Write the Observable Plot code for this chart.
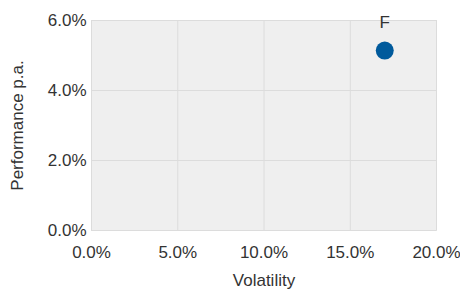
<!DOCTYPE html>
<html><head><meta charset="utf-8">
<script src="https://cdn.jsdelivr.net/npm/d3@7"></script>
<script src="https://cdn.jsdelivr.net/npm/@observablehq/plot@0.6"></script>
<style>body{margin:0;background:#fff;} svg{display:block;}</style>
</head><body><div id="chart"></div>
<script>
const names = ["F"];
const volatility = [0.170];
const performance = [0.0514];
const xTicks = [0, 0.05, 0.10, 0.15, 0.20];
const yTicks = [0, 0.02, 0.04, 0.06];
const xLabel = "Volatility";
const yLabel = "Performance p.a.";

const data = names.map((n, i) => ({name: n, x: volatility[i], y: performance[i]}));
const fmt = d3.format(".1%");

const chart = Plot.plot({
  width: 460, height: 289,
  marginLeft: 91, marginRight: 24, marginTop: 20, marginBottom: 59,
  style: {fontFamily: "'Liberation Sans', Arial, sans-serif", fontSize: "17px", color: "#333", background: "#fff"},
  x: {domain: [0, 0.2]},
  y: {domain: [0, 0.06]},
  marks: [
    Plot.frame({fill: "#efefef", stroke: "#e2e2e2"}),
    Plot.gridX(xTicks, {stroke: "#dcdcdc", strokeOpacity: 1}),
    Plot.gridY(yTicks, {stroke: "#dcdcdc", strokeOpacity: 1}),
    Plot.axisX(xTicks, {tickSize: 0, tickPadding: 15, tickFormat: fmt, label: null, fontSize: 17, fill: "#333"}),
    Plot.axisY(yTicks, {tickSize: 0, tickPadding: 5, tickFormat: fmt, label: null, fontSize: 17, fill: "#333"}),
    Plot.text([xLabel], {frameAnchor: "bottom", dy: 55, fontSize: 17, fill: "#333"}),
    Plot.text([yLabel], {frameAnchor: "left", dx: -74, rotate: -90, textAnchor: "middle", fontSize: 17, fill: "#333"}),
    Plot.dot(data, {x: "x", y: "y", r: 9, fill: "#005a9c", stroke: "none"}),
    Plot.text(data, {x: "x", y: "y", text: "name", dy: -28, fontSize: 17, fill: "#333"})
  ]
});
document.getElementById("chart").appendChild(chart);
</script>
</body></html>
